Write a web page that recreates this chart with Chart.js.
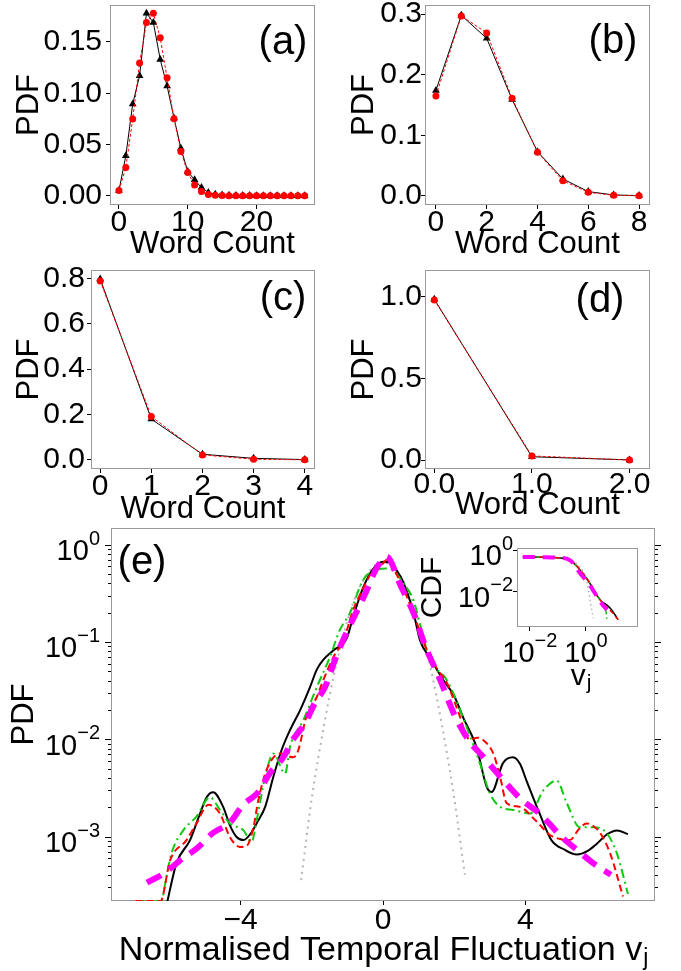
<!DOCTYPE html>
<html><head><meta charset="utf-8">
<script src="https://cdn.jsdelivr.net/npm/chart.js@4.4.0/dist/chart.umd.min.js"></script>
<style>
html,body{margin:0;padding:0;background:#fff;}
#wrap{position:relative;width:681px;height:971px;overflow:hidden;background:#fff;}
canvas{position:absolute;}
</style></head><body>
<div id="wrap">
<canvas id="ca" width="340" height="260" style="left:0px;top:0px"></canvas>
<canvas id="cb" width="341" height="260" style="left:340px;top:0px"></canvas>
<canvas id="cc" width="340" height="275" style="left:0px;top:255px"></canvas>
<canvas id="cd" width="341" height="275" style="left:340px;top:255px"></canvas>
<canvas id="ce" width="681" height="451" style="left:0px;top:520px"></canvas>
<canvas id="ci" width="260" height="175" style="left:400px;top:530px"></canvas>
</div>
<script>
// ================= DATA =================
// (a)
const wordCountA = [0,1,2,3,4,5,6,7,8,9,10,11,12,13,14,15,16,17,18,19,20,21,22,23,24,25,26,27];
const pdfA_black = [0.0052,0.039,0.0895,0.117,0.178,0.169,0.133,0.107,0.076,0.0465,0.0238,0.0156,0.0081,0.0033,0.0016,0.0008,0.0005,0.0004,0.0003,0.0003,0.0002,0.0002,0.0002,0.0001,0.0001,0.0001,0.0001,0.0001];
const pdfA_red   = [0.0052,0.0277,0.0748,0.1295,0.169,0.178,0.154,0.115,0.0752,0.0433,0.0228,0.0107,0.0042,0.0013,0.0005,0.0003,0.0002,0.0002,0.0001,0.0001,0.0001,0.0001,0.0001,0.0001,0.0001,0.0001,0.0001,0.0001];
// (b)
const wordCountB = [0,1,2,3,4,5,6,7,8];
const pdfB_black = [0.174,0.298,0.26,0.159,0.073,0.028,0.0071,0.0016,0.0005];
const pdfB_red   = [0.165,0.297,0.269,0.161,0.072,0.025,0.006,0.001,0.0003];
// (c)
const wordCountC = [0,1,2,3,4];
const pdfC_black = [0.797,0.18,0.025,0.007,0.0015];
const pdfC_red   = [0.789,0.191,0.022,0.003,0.0005];
// (d)
const wordCountD = [0,1,2];
const pdfD_black = [0.984,0.02,0.0005];
const pdfD_red   = [0.98,0.025,0.0003];
// tick values / labels
const ticksA_x = [0,10,20], ticksA_y = [0,0.05,0.10,0.15];
const ticksB_x = [0,2,4,6,8], ticksB_y = [0,0.1,0.2,0.3];
const ticksC_x = [0,1,2,3,4], ticksC_y = [0,0.2,0.4,0.6,0.8];
const ticksD_x = [0,1,2], ticksD_y = [0,0.5,1.0];

// (e) main: normalised temporal fluctuation v_j vs PDF
const vBlack = [-6.08,-5.8,-5.42,-5.14,-4.95,-4.77,-4.49,-4.3,-4.11,-3.92,-3.69,-3.55,-3.31,-3.08,-2.85,-2.61,-2.33,-2.05,-1.86,-1.68,-1.39,-1.02,-0.84,-0.55,-0.27,0,0.2,0.4,0.57,0.86,1.04,1.32,1.7,2.0,2.25,2.63,2.91,3.05,3.37,3.65,3.85,4.03,4.4,4.73,5.1,5.44,5.75,6.0,6.3,6.57,6.88];
const pdfBlack = [2.0e-4,5.4e-4,9.3e-4,1.74e-3,2.57e-3,2.88e-3,2.04e-3,1.32e-3,1.0e-3,9.3e-4,1.12e-3,1.38e-3,2.04e-3,4.17e-3,7.8e-3,1.26e-2,2.0e-2,3.47e-2,5.25e-2,6.6e-2,8.3e-2,0.110,0.182,0.372,0.575,0.676,0.661,0.537,0.417,0.200,0.105,0.069,0.0407,0.0282,0.0170,0.0083,0.0033,0.0029,0.00575,0.0066,0.00562,0.0038,0.00174,0.00093,0.00074,0.00066,0.00072,0.00085,0.00107,0.00117,0.00107];
const vRed = [-6.95,-6.25,-5.98,-5.52,-5.24,-4.9,-4.58,-4.3,-4.02,-3.83,-3.64,-3.5,-3.27,-2.89,-2.52,-2.38,-2.15,-1.86,-1.68,-1.39,-1.11,-0.84,-0.55,-0.28,0,0.1,0.35,0.67,0.95,1.23,1.5,1.8,2.1,2.44,2.65,2.8,3.1,3.3,3.47,3.84,4.31,4.69,5.0,5.25,5.5,5.72,5.95,6.1,6.38,6.74];
const pdfRed = [2.2e-4,2.2e-4,5.75e-4,9.3e-4,1.38e-3,2.14e-3,1.74e-3,1.0e-3,7.9e-4,8.1e-4,1.26e-3,2.4e-3,4.9e-3,7.2e-3,6.6e-3,7.8e-3,1.74e-2,2.75e-2,4.07e-2,7.1e-2,0.105,0.214,0.363,0.55,0.646,0.708,0.525,0.295,0.158,0.083,0.055,0.038,0.02,0.01,0.0105,0.01,0.0072,0.004,0.00224,0.00204,0.00145,0.00105,0.00095,0.00093,0.0012,0.00138,0.00126,0.0011,0.00068,0.000245];
const vGreen = [-6.95,-6.22,-6.12,-5.94,-5.61,-5.24,-4.86,-4.58,-4.3,-3.92,-3.69,-3.55,-3.31,-3.08,-2.75,-2.61,-2.24,-1.86,-1.49,-1.21,-0.93,-0.56,-0.17,0.1,0.29,0.55,0.86,1.1,1.32,1.8,2.35,2.72,3.0,3.29,3.66,4.13,4.5,4.88,5.16,5.53,5.9,6.28,6.57,6.88];
const pdfGreen = [2.2e-4,2.2e-4,3.3e-4,6.8e-4,1.17e-3,1.62e-3,2.57e-3,1.9e-3,1.38e-3,1.17e-3,8.9e-4,1.48e-3,4.17e-3,7.2e-3,4.5e-3,8.5e-3,1.58e-2,3.47e-2,7.1e-2,0.135,0.2,0.437,0.562,0.575,0.55,0.417,0.269,0.126,0.066,0.0407,0.0135,0.00575,0.00282,0.00204,0.0019,0.00174,0.003,0.0038,0.00224,0.00126,0.00126,0.0011,0.00068,0.00026];
const vMagenta = [-6.63,-6.12,-5.7,-5.2,-4.78,-4.3,-3.93,-3.51,-3.17,-2.81,-2.53,-2.19,-1.91,-1.63,-1.3,-1.0,-0.5,-0.2,0.1,0.5,0.86,1.2,1.6,2.0,2.4,2.8,3.54,3.9,4.4,5.0,5.44,5.9,6.4];
const pdfMagenta = [3.4e-4,4.3e-4,5.75e-4,7.8e-4,1.1e-3,1.41e-3,2.14e-3,2.88e-3,4.57e-3,6.5e-3,0.01,0.0148,0.024,0.0347,0.074,0.132,0.316,0.562,0.76,0.38,0.2,0.089,0.0417,0.0182,0.01,0.00676,0.0033,0.0024,0.00174,0.00102,0.00074,0.00054,0.00041];
const vGauss = [-2.3,-2.0,-1.8,-1.5,-1.2,-0.9,-0.6,-0.3,0,0.3,0.6,0.9,1.2,1.5,1.8,2.0,2.3];
const pdfGauss = [3.6e-4,2.5e-3,7.1e-3,0.0282,0.089,0.219,0.407,0.589,0.661,0.589,0.407,0.219,0.089,0.0282,0.0071,0.0025,0.00041];
const ticksE_x = [-4,0,4];
const ticksE_yMajor = [1e-3,1e-2,1e-1,1];
const ticksE_yMinor = [3e-4,4e-4,5e-4,6e-4,7e-4,8e-4,9e-4,2e-3,3e-3,4e-3,5e-3,6e-3,7e-3,8e-3,9e-3,2e-2,3e-2,4e-2,5e-2,6e-2,7e-2,8e-2,9e-2,0.2,0.3,0.4,0.5,0.6,0.7,0.8,0.9];

// (e) inset: CDF vs v_j (log-log)
const insX_black = [0.0056,0.0316,0.1,0.27,0.617,1.38,2.4,3.63,5.5,8.3,11,14.1];
const insY_black = [0.468,0.457,0.427,0.331,0.112,0.0257,0.00724,0.00347,0.0024,0.00138,0.00079,0.00047];
const insX_red = [0.0056,0.0316,0.1,0.27,0.617,1.38,2.4,3.63,5.5,8.3,11,14.1];
const insY_red = [0.468,0.457,0.427,0.331,0.115,0.027,0.0075,0.0033,0.0019,0.0011,0.0007,0.00047];
const insX_green = [0.0056,0.0316,0.1,0.27,0.617,1.38,2.4,3.9,5.0,5.6];
const insY_green = [0.468,0.457,0.427,0.331,0.115,0.026,0.0072,0.003,0.0016,0.00047];
const insX_magenta = [0.0056,0.0316,0.1,0.27,0.617,1.38,2.4,3.63,5.6];
const insY_magenta = [0.47,0.46,0.43,0.33,0.078,0.021,0.0065,0.0028,0.00138];
const insX_gauss = [0.0056,0.1,0.5,1.05,1.3,1.5,1.8];
const insY_gauss = [0.47,0.43,0.2,0.037,0.008,0.0024,0.00056];
const ticksIns = [0.01,1];

// ================= HELPERS =================
const FONT = "'Liberation Sans', Arial, Helvetica, sans-serif";
Chart.defaults.font.family = FONT;
Chart.defaults.color = '#000';

function pts(xs, ys){ return xs.map((x,i)=>({x:x, y:ys[i]})); }
function expStr(v){ const e = Math.round(Math.log10(v)); return e < 0 ? '\u2212' + (-e) : String(e); }
function noPad(s){ s.paddingTop = 0; s.paddingBottom = 0; s.paddingLeft = 0; s.paddingRight = 0; }
function frame(chart, fillWhite){
  const ctx = chart.ctx, a = chart.chartArea;
  ctx.save();
  const l = Math.round(a.left)+0.5, t = Math.round(a.top)+0.5;
  const w = Math.round(a.right)-Math.round(a.left)-1, h = Math.round(a.bottom)-Math.round(a.top)-1;
  if (fillWhite){ ctx.fillStyle='#fff'; ctx.fillRect(a.left,a.top,a.right-a.left,a.bottom-a.top); }
  ctx.strokeStyle = '#999'; ctx.lineWidth = 1;
  ctx.strokeRect(l, t, w, h);
  ctx.restore();
}
function drawPow(ctx, exp, x, y, align, bs, es){
  ctx.save();
  ctx.fillStyle = '#000'; ctx.textBaseline = 'middle'; ctx.textAlign = 'left';
  ctx.font = bs + 'px ' + FONT; const wb = ctx.measureText('10').width;
  ctx.font = es + 'px ' + FONT; const we = ctx.measureText(exp).width;
  const tot = wb + we;
  const x0 = align === 'right' ? x - tot : x - tot/2;
  ctx.font = bs + 'px ' + FONT; ctx.fillText('10', x0, y + 7);
  ctx.font = es + 'px ' + FONT; ctx.fillText(exp, x0 + wb, y - 6);
  ctx.restore();
}
function label(ctx, txt, x, y, size){
  ctx.save(); ctx.fillStyle='#000'; ctx.font = size + 'px ' + FONT;
  ctx.textAlign='center'; ctx.textBaseline='middle'; ctx.fillText(txt, x, y); ctx.restore();
}
function subText(ctx, main, sub, cx, baseY, size, subSize, subDrop){
  ctx.save(); ctx.fillStyle='#000'; ctx.textBaseline='alphabetic'; ctx.textAlign='left';
  ctx.font = size + 'px ' + FONT; const w1 = ctx.measureText(main).width;
  ctx.font = subSize + 'px ' + FONT; const w2 = ctx.measureText(sub).width;
  const x0 = cx - (w1+w2)/2;
  ctx.font = size + 'px ' + FONT; ctx.fillText(main, x0, baseY);
  ctx.font = subSize + 'px ' + FONT; ctx.fillText(sub, x0 + w1 + 1, baseY + subDrop);
  ctx.restore();
}

const baseOpts = { responsive:false, maintainAspectRatio:false, animation:false, devicePixelRatio:1, events:[] };

function smallPanel(id, xs, black, red, c){
  return new Chart(document.getElementById(id), {
    type:'line',
    data:{ datasets:[
      { data: pts(xs, red), borderColor:'#ff0000', backgroundColor:'#ff0000', borderWidth:1, borderDash:[3,2],
        pointStyle:'circle', pointRadius:3.5, pointBorderWidth:0, fill:false },
      { data: pts(xs, black), borderColor:'#000', backgroundColor:'#000', borderWidth:1,
        pointStyle:'triangle', pointRadius:4.5, pointBorderWidth:0, fill:false }
    ]},
    options: Object.assign({}, baseOpts, {
      layout:{ padding:{ left:0, right:c.padR, top:c.padT, bottom:0 } },
      plugins:{ legend:{display:false}, tooltip:{enabled:false} },
      scales:{
        x:{ type:'linear', min:c.xMin, max:c.xMax,
            afterBuildTicks: s => { s.ticks = c.xTicks.map(v => ({value:v})); },
            afterFit: s => { s.height = c.xH; noPad(s); },
            grid:{ drawOnChartArea:false, tickLength:4, tickColor:'#000', tickWidth:1 },
            border:{ display:false },
            ticks:{ autoSkip:false, maxRotation:0, padding:c.xPad, color:'#000', font:{size:30, lineHeight:1}, callback: c.xFmt },
            title:{ display:true, text:'Word Count', color:'#000', font:{size:31, lineHeight:1}, padding:{top:0, bottom:c.xtB} } },
        y:{ type:'linear', min:c.yMin, max:c.yMax,
            afterBuildTicks: s => { s.ticks = c.yTicks.map(v => ({value:v})); },
            afterFit: s => { s.width = c.yW; noPad(s); },
            grid:{ drawOnChartArea:false, tickLength:4, tickColor:'#000', tickWidth:1 },
            border:{ display:false },
            ticks:{ autoSkip:false, padding:c.yPad, color:'#000', font:{size:30, lineHeight:1}, callback: c.yFmt },
            title:{ display:true, text:'PDF', color:'#000', font:{size:31, lineHeight:1}, padding:{top:c.ytT, bottom:0} } }
      }
    }),
    plugins:[{ id:'deco_'+id,
      beforeDatasetsDraw(chart){ frame(chart, false); },
      afterDraw(chart){ label(chart.ctx, c.tag, c.tagX, c.tagY, 40); } }]
  });
}

smallPanel('ca', wordCountA, pdfA_black, pdfA_red, {
  padR:25, padT:5, xH:55, yW:110, xMin:-1.3, xMax:28.5, yMin:-0.0089, yMax:0.186,
  xTicks:ticksA_x, yTicks:ticksA_y, xPad:-1, yPad:4, xtB:0, ytT:14,
  xFmt: v => String(v), yFmt: v => v.toFixed(2), tag:'(a)', tagX:283, tagY:43 });
smallPanel('cb', wordCountB, pdfB_black, pdfB_red, {
  padR:31, padT:5, xH:55, yW:85, xMin:-0.43, xMax:8.43, yMin:-0.015, yMax:0.315,
  xTicks:ticksB_x, yTicks:ticksB_y, xPad:-1, yPad:-1, xtB:0, ytT:9,
  xFmt: v => String(v), yFmt: v => v.toFixed(1), tag:'(b)', tagX:273, tagY:42 });
smallPanel('cc', wordCountC, pdfC_black, pdfC_red, {
  padR:25, padT:15, xH:61, yW:91, xMin:-0.18, xMax:4.2, yMin:-0.04, yMax:0.837,
  xTicks:ticksC_x, yTicks:ticksC_y, xPad:-1, yPad:2, xtB:5, ytT:14,
  xFmt: v => String(v), yFmt: v => v.toFixed(1), tag:'(c)', tagX:283, tagY:44 });
smallPanel('cd', wordCountD, pdfD_black, pdfD_red, {
  padR:31, padT:15, xH:61, yW:85, xMin:-0.095, xMax:2.21, yMin:-0.055, yMax:1.163,
  xTicks:ticksD_x, yTicks:ticksD_y, xPad:-3, yPad:-1, xtB:9, ytT:9,
  xFmt: v => v.toFixed(1), yFmt: v => v.toFixed(1), tag:'(d)', tagX:260, tagY:46 });

// ---------------- (e) main ----------------
const E_YMIN = 2.2e-4, E_YMAX = 1.5;
function logAxis(pos, weight, ticks, len, width){
  return { type:'logarithmic', position:pos, weight:weight, min:E_YMIN, max:E_YMAX,
    afterBuildTicks: s => { s.ticks = ticks.map(v => ({value:v})); },
    afterFit: s => { s.width = width; noPad(s); },
    grid:{ drawOnChartArea:false, tickLength:len, tickColor:'#000', tickWidth:1 },
    border:{ display:false }, ticks:{ display:false } };
}
const yMainLeft = logAxis('left', 1, ticksE_yMajor, 6, 111);
yMainLeft.title = { display:true, text:'PDF', color:'#000', font:{size:31, lineHeight:1}, padding:{top:9, bottom:0} };

new Chart(document.getElementById('ce'), {
  type:'line',
  data:{ datasets:[
    { data:pts(vMagenta,pdfMagenta), borderColor:'#ff00ff', borderWidth:6, borderDash:[16,10], borderCapStyle:'butt', pointRadius:0, cubicInterpolationMode:'monotone', fill:false },
    { data:pts(vRed,pdfRed), borderColor:'#ff0000', borderWidth:2, borderDash:[7,4], pointRadius:0, cubicInterpolationMode:'monotone', fill:false },
    { data:pts(vGreen,pdfGreen), borderColor:'#11c811', borderWidth:2, borderDash:[9,4,2,4], pointRadius:0, cubicInterpolationMode:'monotone', fill:false },
    { data:pts(vBlack,pdfBlack), borderColor:'#000000', borderWidth:2, pointRadius:0, cubicInterpolationMode:'monotone', fill:false },
    { data:pts(vGauss,pdfGauss), borderColor:'#b4b4b4', borderWidth:2, borderDash:[2,4.5], pointRadius:0, cubicInterpolationMode:'monotone', fill:false }
  ]},
  options: Object.assign({}, baseOpts, {
    layout:{ padding:{ left:0, right:0, top:8, bottom:0 } },
    plugins:{ legend:{display:false}, tooltip:{enabled:false} },
    scales:{
      x:{ type:'linear', min:-7.64, max:7.64,
          afterBuildTicks: s => { s.ticks = ticksE_x.map(v => ({value:v})); },
          afterFit: s => { s.height = 70; noPad(s); },
          grid:{ drawOnChartArea:false, tickLength:4, tickColor:'#000', tickWidth:1 },
          border:{ display:false },
          ticks:{ autoSkip:false, maxRotation:0, padding:1, color:'#000', font:{size:30, lineHeight:1},
                  callback: v => v < 0 ? '\u2212' + Math.abs(v) : String(v) } },
      y: yMainLeft,
      yMinorL: logAxis('left', 0, ticksE_yMinor, 3, 0),
      yR: logAxis('right', 1, ticksE_yMajor, 6, 26),
      yMinorR: logAxis('right', 0, ticksE_yMinor, 3, 0)
    }
  }),
  plugins:[{ id:'decoE',
    beforeDatasetsDraw(chart){ frame(chart, false); },
    afterDraw(chart){
      const ctx = chart.ctx, a = chart.chartArea, ys = chart.scales.y;
      ys.ticks.forEach(t => drawPow(ctx, expStr(t.value), a.left - 11, ys.getPixelForValue(t.value), 'right', 29, 20));
      subText(ctx, 'Normalised Temporal Fluctuation v', 'j', (a.left + a.right)/2, 440, 34, 23, 5);
      label(ctx, '(e)', 142, 43, 40);
    } }]
});

// ---------------- (e) inset ----------------
function insAxis(pos, min, max, size){
  return { type:'logarithmic', position:pos, min:min, max:max,
    afterBuildTicks: s => { s.ticks = ticksIns.map(v => ({value:v})); },
    afterFit: s => { if (pos === 'bottom') s.height = size; else s.width = size; noPad(s); },
    grid:{ drawOnChartArea:false, tickLength:4, tickColor:'#000', tickWidth:1 },
    border:{ display:false }, ticks:{ display:false } };
}
const insY = insAxis('left', 2.1e-4, 1.26, 117);
insY.title = { display:true, text:'CDF', color:'#000', font:{size:30, lineHeight:1}, padding:{top:18, bottom:0} };

new Chart(document.getElementById('ci'), {
  type:'line',
  data:{ datasets:[
    { data:pts(insX_magenta,insY_magenta), borderColor:'#ff00ff', borderWidth:4, borderDash:[12,8], borderCapStyle:'butt', pointRadius:0, cubicInterpolationMode:'monotone', fill:false },
    { data:pts(insX_red,insY_red), borderColor:'#ff0000', borderWidth:1.5, borderDash:[5,3], pointRadius:0, cubicInterpolationMode:'monotone', fill:false },
    { data:pts(insX_green,insY_green), borderColor:'#11c811', borderWidth:1.5, borderDash:[6,3,1.5,3], pointRadius:0, cubicInterpolationMode:'monotone', fill:false },
    { data:pts(insX_black,insY_black), borderColor:'#000', borderWidth:1.5, pointRadius:0, cubicInterpolationMode:'monotone', fill:false },
    { data:pts(insX_gauss,insY_gauss), borderColor:'#b4b4b4', borderWidth:1.5, borderDash:[1.5,3], pointRadius:0, cubicInterpolationMode:'monotone', fill:false }
  ]},
  options: Object.assign({}, baseOpts, {
    layout:{ padding:{ left:0, right:22, top:18, bottom:0 } },
    plugins:{ legend:{display:false}, tooltip:{enabled:false} },
    scales:{ x: insAxis('bottom', 0.00347, 72, 78), y: insY }
  }),
  plugins:[{ id:'decoI',
    beforeDatasetsDraw(chart){ frame(chart, true); },
    afterDraw(chart){
      const ctx = chart.ctx, a = chart.chartArea, xs = chart.scales.x, ys = chart.scales.y;
      ys.ticks.forEach(t => drawPow(ctx, expStr(t.value), a.left - 4, ys.getPixelForValue(t.value), 'right', 29, 20));
      xs.ticks.forEach(t => drawPow(ctx, expStr(t.value), xs.getPixelForValue(t.value), a.bottom + 20, 'center', 29, 20));
      subText(ctx, 'v', 'j', (a.left + a.right)/2 + 3, 155, 30, 21, 4);
    } }]
});
</script>
</body></html>
